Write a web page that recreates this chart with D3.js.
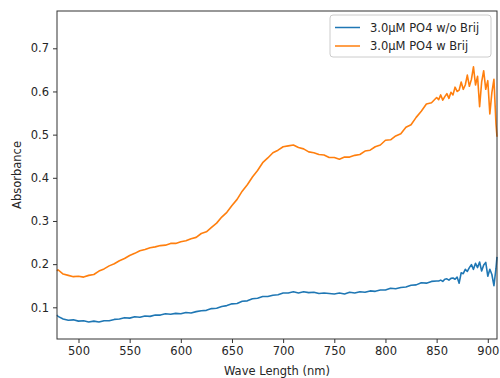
<!DOCTYPE html>
<html>
<head>
<meta charset="utf-8">
<script src="https://cdn.jsdelivr.net/npm/d3@7"></script>
<style>
  body { margin: 0; background: #fff; }
  text { font-family: "DejaVu Sans", sans-serif; fill: #262626; }
</style>
</head>
<body>
<div id="chart"></div>
<script>
// wavelengths (nm) - denser sampling at the noisy red end
let wavelengths = [479, 480, 485, 490, 495, 500, 505, 510, 515, 520, 525, 530, 535, 540, 545, 550,
    555, 560, 565, 570, 575, 580, 585, 590, 595, 600, 605, 610, 615, 620, 625, 630, 635, 640, 645, 650,
    655, 660, 665, 670, 675, 680, 685, 690, 695, 700, 705, 710, 715, 720, 725, 730, 735, 740, 745, 750,
    755, 760, 765, 770, 775, 780, 785, 790, 795, 800, 805, 810, 815, 820, 825, 830, 835, 840, 845, 850,
    852, 854, 856, 858, 860, 862, 864, 866, 868, 870, 872, 874, 876, 878, 880, 882, 884, 886, 888, 890,
    892, 894, 896, 898, 900, 902, 904, 906, 908, 909];

// 3.0uM PO4 without Brij
let noBrij = [0.082, 0.079, 0.073, 0.070, 0.071, 0.068, 0.069, 0.066, 0.068, 0.066, 0.069, 0.069, 0.072, 0.073, 0.076, 0.075,
    0.078, 0.077, 0.080, 0.079, 0.082, 0.082, 0.085, 0.084, 0.086, 0.085, 0.088, 0.087, 0.090, 0.092, 0.093, 0.097, 0.098, 0.102, 0.104, 0.108,
    0.109, 0.114, 0.115, 0.120, 0.121, 0.125, 0.125, 0.128, 0.129, 0.133, 0.133, 0.136, 0.133, 0.136, 0.134, 0.135, 0.132, 0.133, 0.132, 0.131,
    0.133, 0.131, 0.135, 0.133, 0.136, 0.135, 0.138, 0.137, 0.140, 0.140, 0.144, 0.143, 0.146, 0.147, 0.151, 0.152, 0.157, 0.156, 0.160, 0.161,
    0.161, 0.163, 0.160, 0.165, 0.166, 0.163, 0.167, 0.168, 0.165, 0.170, 0.156, 0.180, 0.178, 0.188, 0.183, 0.192, 0.199, 0.188, 0.202, 0.192,
    0.205, 0.184, 0.198, 0.204, 0.172, 0.188, 0.176, 0.150, 0.190, 0.217];

// 3.0uM PO4 with Brij
let withBrij = [0.184, 0.187, 0.177, 0.174, 0.171, 0.172, 0.170, 0.174, 0.176, 0.184, 0.189, 0.196, 0.201, 0.208, 0.213, 0.220,
    0.225, 0.231, 0.234, 0.238, 0.240, 0.243, 0.244, 0.248, 0.248, 0.252, 0.254, 0.259, 0.262, 0.271, 0.275, 0.285, 0.295, 0.309, 0.320, 0.336,
    0.350, 0.369, 0.384, 0.402, 0.417, 0.435, 0.446, 0.458, 0.464, 0.472, 0.474, 0.476, 0.470, 0.467, 0.460, 0.458, 0.454, 0.453, 0.447, 0.447,
    0.443, 0.448, 0.448, 0.452, 0.454, 0.462, 0.464, 0.472, 0.476, 0.487, 0.488, 0.497, 0.502, 0.517, 0.523, 0.540, 0.554, 0.571, 0.574, 0.586,
    0.581, 0.592, 0.580, 0.588, 0.595, 0.584, 0.598, 0.592, 0.610, 0.600, 0.603, 0.622, 0.605, 0.615, 0.638, 0.612, 0.628, 0.657, 0.615, 0.635,
    0.565, 0.622, 0.648, 0.605, 0.625, 0.548, 0.598, 0.628, 0.525, 0.495];

let seriesNames = ["3.0\u03bcM PO4 w/o Brij", "3.0\u03bcM PO4 w Brij"];
let seriesColors = ["#1f77b4", "#ff7f0e"];
let xTicks = [500, 550, 600, 650, 700, 750, 800, 850, 900];
let yTicks = [0.1, 0.2, 0.3, 0.4, 0.5, 0.6, 0.7];

let width = 500, height = 378;
let margin = { top: 11, right: 3, bottom: 39, left: 57 };

let svg = d3.select("#chart").append("svg")
    .attr("width", width)
    .attr("height", height);

let x = d3.scaleLinear().domain([479, 909]).range([margin.left, width - margin.right]);
let y = d3.scaleLinear().domain([0.0266, 0.7864]).range([height - margin.bottom, margin.top]);

// lines
let series = [noBrij, withBrij];
let line = d3.line()
    .x((d, i) => x(wavelengths[i]))
    .y(d => y(d));

let plot = svg.append("g");
series.forEach((s, k) => {
    plot.append("path")
        .attr("d", line(s))
        .attr("fill", "none")
        .attr("stroke", seriesColors[k])
        .attr("stroke-width", 1.6)
        .attr("stroke-linejoin", "round");
});

// axes
let xAxis = svg.append("g")
    .attr("transform", `translate(0,${height - margin.bottom})`)
    .call(d3.axisBottom(x).tickValues(xTicks).tickSize(4).tickPadding(4));
let yAxis = svg.append("g")
    .attr("transform", `translate(${margin.left},0)`)
    .call(d3.axisLeft(y).tickValues(yTicks).tickSize(4).tickPadding(4).tickFormat(d3.format(".1f")));

[xAxis, yAxis].forEach(a => {
    a.select(".domain").remove();
    a.selectAll("line").attr("stroke", "#333");
    a.selectAll("text").attr("font-size", 11.5).attr("font-family", "DejaVu Sans").attr("fill", "#262626");
});

// frame
svg.append("rect")
    .attr("x", margin.left)
    .attr("y", margin.top)
    .attr("width", width - margin.left - margin.right)
    .attr("height", height - margin.top - margin.bottom)
    .attr("fill", "none")
    .attr("stroke", "#333")
    .attr("stroke-width", 1);

// axis labels
svg.append("text")
    .attr("x", (margin.left + width - margin.right) / 2)
    .attr("y", 375)
    .attr("text-anchor", "middle")
    .attr("font-size", 11.5)
    .text("Wave Length (nm)");

svg.append("text")
    .attr("transform", `translate(21,${(margin.top + height - margin.bottom) / 2}) rotate(-90)`)
    .attr("text-anchor", "middle")
    .attr("font-size", 11.5)
    .text("Absorbance");

// legend
let legend = svg.append("g").attr("transform", "translate(330,15)");
legend.append("rect")
    .attr("width", 161)
    .attr("height", 42)
    .attr("rx", 3)
    .attr("fill", "#fff")
    .attr("fill-opacity", 0.8)
    .attr("stroke", "#ccc");

seriesNames.forEach((name, k) => {
    let row = legend.append("g").attr("transform", `translate(0,${12.5 + k * 18.5})`);
    row.append("line")
        .attr("x1", 5).attr("x2", 30)
        .attr("stroke", seriesColors[k])
        .attr("stroke-width", 1.5);
    row.append("text")
        .attr("x", 40)
        .attr("dy", "0.35em")
        .attr("font-size", 11.5)
        .text(name);
});
</script>
</body>
</html>
